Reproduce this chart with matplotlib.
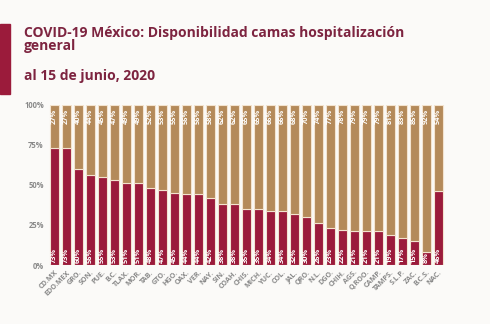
import matplotlib
matplotlib.use("Agg")
import matplotlib.pyplot as plt
import numpy as np

states = ["CD.MX", "EDO.MEX", "GRO.", "SON.", "PUE.", "B.C.", "TLAX.", "MOR.", "TAB.",
          "GTO.", "HGO.", "OAX.", "VER.", "NAY.", "SIN.", "COAH.", "CHIS.", "MICH.",
          "YUC.", "COL.", "JAL.", "QRO.", "N.L.", "DGO.", "CHIH.", "AGS.", "Q.ROO.",
          "CAMP.", "TAMPS.", "S.L.P.", "ZAC.", "B.C.S.", "NAC."]
ocupadas = [73, 73, 60, 56, 55, 53, 51, 51, 48, 47, 45, 44, 44, 42, 38, 38, 35, 35,
            34, 34, 32, 30, 26, 23, 22, 21, 21, 21, 19, 17, 15, 8, 46]
disponibles = [27, 27, 40, 44, 45, 47, 49, 49, 52, 53, 55, 56, 56, 58, 62, 62, 65, 65,
               66, 66, 68, 70, 74, 77, 78, 79, 79, 79, 81, 83, 85, 92, 54]
yticks = [0, 25, 50, 75, 100]

red = "#9b1b3b"
gold = "#b48a5a"
edge = "#f3e3cf"
title_c = "#7d2440"
tick_c = "#8a8a8a"

fig = plt.figure(figsize=(4.9, 3.24), dpi=100)
fig.patch.set_facecolor("#fbfaf8")
ax = fig.add_axes([0.098, 0.182, 0.81, 0.495])
ax.set_facecolor("none")

x = np.arange(len(states))
ax.bar(x, ocupadas, width=0.8, color=red, edgecolor=edge, linewidth=0.8)
ax.bar(x, disponibles, bottom=ocupadas, width=0.8, color=gold, edgecolor=edge, linewidth=0.8)

for i in range(len(states)):
    ax.text(x[i], 1.5, f"{ocupadas[i]}%", rotation=90, ha="center", va="bottom",
            color="white", fontsize=5.3, fontweight="bold", family="Open Sans")
    ax.text(x[i], 97.5, f"{disponibles[i]}%", rotation=90, ha="center", va="top",
            color="white", fontsize=5.3, fontweight="bold", family="Open Sans")

ax.set_xlim(-0.55, len(states) - 0.45)
ax.set_ylim(0, 100)
ax.set_yticks(yticks)
ax.set_yticklabels([f"{v}%" for v in yticks], color=tick_c, fontsize=5.5,
                   fontweight="bold", family="Open Sans")
ax.set_xticks(x)
ax.set_xticklabels(states, rotation=45, ha="right", rotation_mode="anchor",
                   color=tick_c, fontsize=5.2, fontweight="bold", family="Open Sans")
ax.tick_params(length=0, pad=3)
for s in ax.spines.values():
    s.set_visible(False)

fig.patches.append(plt.Rectangle((0.0, 0.71), 0.02, 0.215, transform=fig.transFigure,
                                 color="#9b1b3b", zorder=0))
fig.text(0.049, 0.92, "COVID-19 México: Disponibilidad camas hospitalización\ngeneral",
         color=title_c, fontsize=10, fontweight="bold", family="Open Sans",
         va="top", ha="left", linespacing=0.95)
fig.text(0.049, 0.765, "al 15 de junio, 2020", color=title_c, fontsize=10,
         fontweight="bold", family="Open Sans", va="center", ha="left")

fig.savefig("out.png", dpi=100, facecolor=fig.get_facecolor())
